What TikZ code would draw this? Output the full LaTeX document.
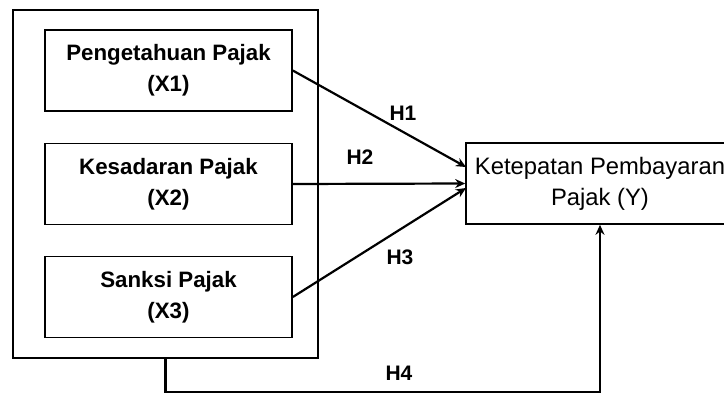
\documentclass[tikz,border=0pt]{standalone}
\usepackage{fontspec}
\setmainfont{Liberation Sans}
\usetikzlibrary{arrows.meta}

\tikzset{
  varbox/.style={draw, line width=1.6pt, minimum width=247pt, minimum height=81pt,
    align=center, font=\fontsize{22.3}{31}\selectfont\bfseries},
  hyp/.style={font=\fontsize{21}{24}\selectfont\bfseries},
  link/.style={line width=2.2pt, -{Stealth[length=10pt,width=9pt]}}
}

\begin{document}
\begin{tikzpicture}[x=1pt,y=-1pt]

    \useasboundingbox (0,0) rectangle (724,394);
    \clip (0,0) rectangle (724,394);

    % outer frame round the three variables
    \node[draw, line width=1.6pt, minimum width=305pt, minimum height=348pt] (grp) at (165.5,184) {};

    \node[varbox] (x1) at (168.5,70.5) {Pengetahuan Pajak\\(X1)};
    \node[varbox] (x2) at (168.5,184) {Kesadaran Pajak\\(X2)};
    \node[varbox] (x3) at (168.5,297) {Sanksi Pajak\\(X3)};

    \node[draw, line width=1.6pt, minimum width=268pt, minimum height=81pt, align=center,
      font=\fontsize{23.8}{31}\selectfont] (y) at (600,183.5) {Ketepatan Pembayaran\\Pajak (Y)};

    \coordinate (t1) at (466,167);
    \coordinate (t3) at (466,188);

    \draw[link] (x1.east) -- (t1);
    \draw[link] (x2.east) -- (y.west);
    \draw[link] (x3.east) -- (t3);
    \draw[link] (grp.south) -- ++(0,33) -| (y.south);

    \node[hyp] (h1) at (403,113) {H1};
    \node[hyp] (h2) at (360,157) {H2};
    \node[hyp] (h3) at (400,257) {H3};
    \node[hyp] (h4) at (399,373) {H4};
\end{tikzpicture}
\end{document}
